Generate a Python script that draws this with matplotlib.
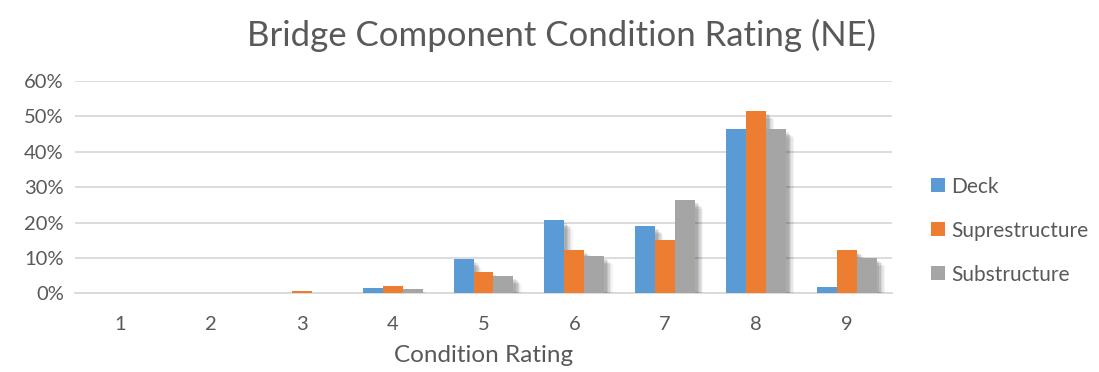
import matplotlib
matplotlib.use("Agg")
import matplotlib.pyplot as plt
import matplotlib.patheffects as pe
import numpy as np
from matplotlib.ticker import FuncFormatter

plt.rcParams['font.family'] = ['Lato', 'DejaVu Sans']

ratings = ['1', '2', '3', '4', '5', '6', '7', '8', '9']
deck = [0.0, 0.0, 0.002, 0.016, 0.096, 0.206, 0.190, 0.463, 0.019]
superstructure = [0.0, 0.0, 0.006, 0.020, 0.060, 0.123, 0.150, 0.515, 0.123]
substructure = [0.0, 0.0, 0.0, 0.012, 0.049, 0.105, 0.263, 0.463, 0.100]

series_names = ['Deck', 'Suprestructure', 'Substructure']
colors = ['#5B9BD5', '#ED7D31', '#A5A5A5']
text_color = '#595959'
grid_color = '#D9D9D9'

fig = plt.figure(figsize=(10.99, 3.72), dpi=100)
ax = fig.add_axes([0.0682, 0.2116, 0.7435, 0.5707])

x = np.arange(len(ratings))
width = 0.22
shadow = [pe.SimplePatchShadow(offset=(o, -o), shadow_rgbFace='#000000', alpha=a)
          for o, a in ((6, 0.04), (5, 0.06), (4, 0.08), (3, 0.09), (2, 0.09))] + [pe.Normal()]

for i, (vals, name, c) in enumerate(zip([deck, superstructure, substructure], series_names, colors)):
    bars = ax.bar(x + (i - 1) * width, vals, width, color=c, label=name, zorder=3)
    for b in bars:
        b.set_path_effects(shadow)

ax.set_xlim(-0.5, len(ratings) - 0.5)
ax.set_ylim(0, 0.6)
ax.set_yticks(np.arange(0, 0.61, 0.1))
ax.yaxis.set_major_formatter(FuncFormatter(lambda v, p: f"{v*100:.0f}%"))
ax.set_xticks(x)
ax.set_xticklabels(ratings)

ax.grid(axis='y', color=grid_color, linewidth=1.3, zorder=0)
for s in ['top', 'right', 'left']:
    ax.spines[s].set_visible(False)
ax.spines['bottom'].set_color(grid_color)
ax.spines['bottom'].set_linewidth(1.3)
ax.tick_params(axis='both', length=0, labelsize=14.5, colors=text_color)
ax.tick_params(axis='x', pad=16)
ax.tick_params(axis='y', pad=8)

ax.set_xlabel('Condition Rating', fontsize=17.5, color=text_color, labelpad=9)
fig.suptitle('Bridge Component Condition Rating (NE)', fontsize=25, color=text_color,
             x=0.511, y=0.95)

leg = ax.legend(loc='center left', bbox_to_anchor=(1.025, 0.295), frameon=False,
                fontsize=15, labelcolor=text_color, handlelength=0.65, handleheight=0.65,
                handletextpad=0.3, labelspacing=1.15)
for h in leg.legend_handles:
    h.set_path_effects([])

fig.savefig('out.png', dpi=100)
